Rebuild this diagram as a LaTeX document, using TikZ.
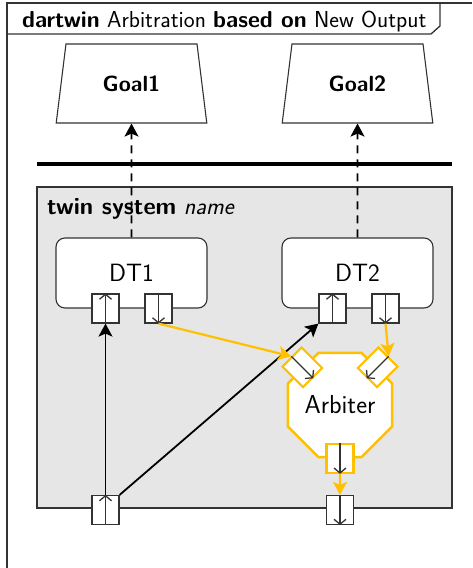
\documentclass[tikz,border=0pt]{standalone}
\usepackage{fontspec}
\usepackage{tikz}
\usetikzlibrary{positioning,shapes.geometric,arrows.meta}

\definecolor{arbyellow}{HTML}{FFC000}
\definecolor{sysgray}{HTML}{E6E6E6}
\definecolor{linegray}{HTML}{333333}

\tikzset{
  goal/.style={draw=linegray, line width=1.1pt, trapezium, trapezium stretches=true,
    trapezium left angle=75, trapezium right angle=75,
    minimum width=151pt, minimum height=79pt, inner sep=0pt,
    font=\sffamily\bfseries\fontsize{22}{26}\selectfont},
  twin/.style={draw=linegray, line width=1.1pt, rounded corners=9pt, fill=white,
    minimum width=151pt, minimum height=70pt,
    font=\sffamily\fontsize{25}{29}\selectfont},
  port/.style={draw=linegray, line width=1.2pt, fill=white,
    minimum width=27pt, minimum height=29pt, inner sep=0pt},
  yport/.style={port, draw=arbyellow, line width=2.2pt},
  barb/.style={-{Straight Barb[length=5pt,width=12pt]}, line width=1.3pt, linegray},
  flow/.style={-{Stealth[length=13pt,width=14pt,inset=3pt]}, line width=1.8pt},
  yflow/.style={flow, arbyellow, line width=2.2pt},
  goalflow/.style={-{Stealth[length=13pt,width=14pt,inset=3pt]}, line width=1.6pt,
    dash pattern=on 8pt off 6pt},
}

\begin{document}
\begin{tikzpicture}[x=1pt,y=-1pt]
  \useasboundingbox (0,0) rectangle (472,568);

  % frame and its title tab
  \draw[linegray, line width=1.3pt] (7,568) -- (7,3) -- (472,3);
  \draw[linegray, line width=1.3pt] (7,34) -- (431,34) -- (440,26) -- (440,3);
  \node[anchor=base west, inner sep=0pt, font=\sffamily\fontsize{23.1}{27}\selectfont] (title) at (22,27.5)
    {\textbf{dartwin} Arbitration \textbf{based on} New Output};

  % goals
  \node[goal] (goalone) at (131.5,83.5) {Goal1};
  \node[goal] (goaltwo) at (357.5,83.5) {Goal2};
  \draw[line width=4pt] (37,164) -- (452,164);

  % twin system
  \draw[draw=linegray, fill=sysgray, line width=1.1pt] (37,187) rectangle (452,508);
  \node[anchor=base west, inner sep=0pt, font=\sffamily\fontsize{23.8}{28}\selectfont] (sysname) at (47,214)
    {\textbf{twin system} \textit{name}};

  \node[twin] (dtone) at (131.5,273) {DT1};
  \node[twin] (dttwo) at (357.5,273) {DT2};

  \node[port] (dtonein) at (105.5,308.5) {};
  \node[port] (dtoneout) at (158.5,308.5) {};
  \node[port] (dttwoin) at (332.5,308.5) {};
  \node[port] (dttwoout) at (385.5,308.5) {};

  % arbiter
  \node[draw=arbyellow, fill=white, line width=2.5pt, regular polygon, regular polygon sides=8,
    minimum size=112.6pt, inner sep=0pt, font=\sffamily\fontsize{26}{30}\selectfont] (arb) at (340,405) {Arbiter};
  \node[yport, rotate=45] (arbinl) at (arb.135) {};
  \node[yport, rotate=-45] (arbinr) at (arb.45) {};
  \node[yport] (arbout) at (arb.south) {};

  % system ports
  \node[port] (sysin) at (105.5,510) {};
  \node[port] (sysout) at (340,510) {};

  % port directions
  \foreach \p in {dtonein,dttwoin,sysin}
    \draw[barb] (\p.south) -- (\p.north);
  \foreach \p in {dtoneout,dttwoout,arbinl,arbinr,arbout,sysout}
    \draw[barb] (\p.north) -- (\p.south);

  % connectors
  \draw[goalflow] (dtone) -- (goalone);
  \draw[goalflow] (dttwo) -- (goaltwo);
  \draw[flow] (sysin.north) -- (dtonein.south);
  \draw[flow] (sysin.north east) -- (dttwoin.south west);
  \draw[yflow] (dtoneout.south) -- (arbinl.north);
  \draw[yflow] (dttwoout.south) -- (arbinr.north);
  \draw[yflow] (arbout.south) -- (sysout.north);
\end{tikzpicture}
\end{document}
